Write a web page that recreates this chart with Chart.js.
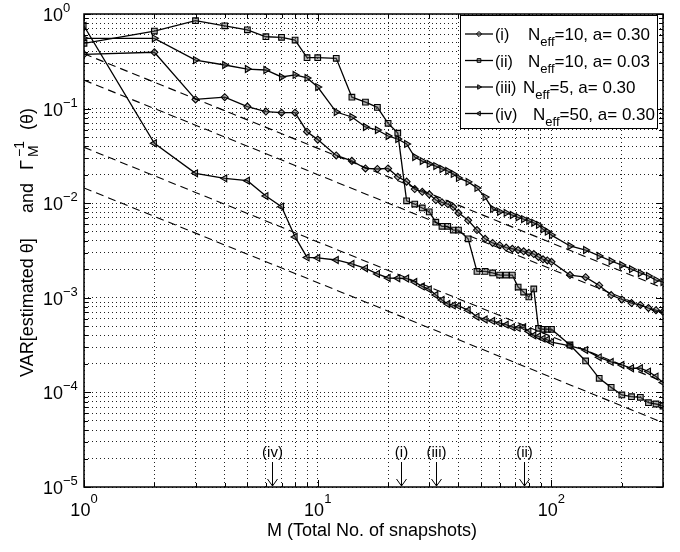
<!DOCTYPE html>
<html>
<head>
<meta charset="utf-8">
<script src="https://cdn.jsdelivr.net/npm/chart.js@4.4.1/dist/chart.umd.min.js"></script>
<style>
  html, body { margin: 0; padding: 0; background: #fff; }
  #wrap { width: 680px; height: 552px; }
</style>
</head>
<body>
<div id="wrap"><canvas id="chart" width="680" height="552"></canvas></div>
<script>
// number of snapshots M at which the variance was estimated
const snapshots = [1, 2, 3, 4, 5, 6, 7, 8, 9, 10,
  12, 14, 16, 18, 20, 22, 24, 26, 28, 30, 32, 34, 36, 38, 40,
  44, 48, 52, 56, 60, 64, 68, 72, 76, 80, 84, 88, 92, 96, 100,
  120, 140, 160, 180, 200, 220, 240, 260, 280, 300]

// VAR[estimated theta]
const varI = [0.375, 0.394, 0.125, 0.132, 0.105, 0.093, 0.0905, 0.0905, 0.057, 0.047,
  0.032, 0.028, 0.0233, 0.023, 0.0233, 0.019, 0.0169, 0.0141, 0.0132, 0.0124, 0.0108, 0.0102, 0.0098, 0.0091, 0.0079,
  0.0066, 0.0052, 0.0042, 0.0038, 0.0036, 0.0034, 0.0033, 0.0032, 0.0031, 0.0030, 0.0029, 0.0027, 0.00255, 0.00248, 0.0024,
  0.00174, 0.00165, 0.00135, 0.00107, 0.00096, 0.00088, 0.00084, 0.00078, 0.00074, 0.00071]
const varII = [0.49, 0.66, 0.85, 0.75, 0.68, 0.575, 0.567, 0.53, 0.345, 0.345,
  0.34, 0.132, 0.117, 0.103, 0.070, 0.055, 0.0106, 0.0098, 0.0089, 0.0081, 0.0063, 0.0057, 0.0057, 0.0052, 0.0052,
  0.0042, 0.0019, 0.0019, 0.00183, 0.00174, 0.00174, 0.00174, 0.0013, 0.00115, 0.00102, 0.00124, 0.000476, 0.000465, 0.000465, 0.000465,
  0.000317, 0.000215, 0.000141, 0.000113, 0.000094, 0.00009, 0.0000888, 0.0000778, 0.0000754, 0.0000718]
const varIII = [0.553, 0.553, 0.326, 0.289, 0.262, 0.256, 0.216, 0.227, 0.211, 0.169,
  0.092, 0.0815, 0.0639, 0.0594, 0.0513, 0.0477, 0.0423, 0.0308, 0.0279, 0.026, 0.0247, 0.023, 0.0219, 0.0204, 0.0185,
  0.0168, 0.0145, 0.0116, 0.0087, 0.0081, 0.0079, 0.0075, 0.0071, 0.0068, 0.0065, 0.0062, 0.0059, 0.0053, 0.0050, 0.0046,
  0.00353, 0.0032, 0.00277, 0.00245, 0.00222, 0.00201, 0.00183, 0.0017, 0.00154, 0.00147]
const varIV = [0.747, 0.043, 0.0207, 0.0183, 0.0173, 0.0119, 0.0092, 0.0044, 0.00267, 0.00264,
  0.00251, 0.00228, 0.00205, 0.00179, 0.00162, 0.00161, 0.0016, 0.00147, 0.00132, 0.00123, 0.00107, 0.00095, 0.00086, 0.00083, 0.00082,
  0.00074, 0.00063, 0.00059, 0.00057, 0.00054, 0.00052, 0.00049, 0.00048, 0.00049, 0.00044, 0.0004, 0.00039, 0.00037, 0.00036, 0.00034,
  0.00031, 0.00028, 0.000235, 0.00021, 0.000195, 0.00018, 0.00018, 0.000166, 0.000147, 0.000127]

// dashed bounds Gamma_M^-1(theta), value at M = 1 and at M = 300
const boundM = [1, 300]
const boundStart = [0.38, 0.20, 0.039, 0.0145]
const boundEnd = [0.00127, 0.00067, 0.00013, 0.000048]

// legend
const seriesTags = ['(i)', '(ii)', '(iii)', '(iv)']
const nEff = ['10', '10', '5', '50']
const aValues = ['0.30', '0.03', '0.30', '0.30']

// arrows on the M axis
const arrowM = [6.4, 22.6, 32.2, 76]
const arrowTags = ['(iv)', '(i)', '(iii)', '(ii)']

// ticks / grid
const xTicks = [1, 2, 3, 4, 5, 6, 7, 8, 9, 10, 20, 30, 40, 50, 60, 70, 80, 90, 100, 200, 300]
const yDecades = [-5, -4, -3, -2, -1, 0]
const xLabelDecades = [0, 1, 2]
const mantissas = [1, 2, 3, 4, 5, 6, 7, 8, 9]
const yTicks = []
yDecades.forEach(d => mantissas.forEach(m => { if (d < 0 || m === 1) yTicks.push(m * Math.pow(10, d)) }))

const FONT = "'Liberation Sans', Arial, Helvetica, sans-serif"
const MARKER_FILL = 'rgba(90,90,90,0.45)'
const pointStyles = ['rectRot', 'rect', 'triangle', 'triangle']
const pointRotations = [0, 0, 90, -90]
const pointRadii = [3.5, 4, 4, 4]
const seriesValues = [varI, varII, varIII, varIV]

const isDecade = v => Math.abs(Math.log10(v) - Math.round(Math.log10(v))) < 1e-9
const expText = d => (d < 0 ? '\u2212' + (-d) : String(d))

const datasets = []
boundStart.forEach((v, i) => {
  datasets.push({
    data: [{ x: boundM[0], y: v }, { x: boundM[1], y: boundEnd[i] }],
    borderColor: '#000',
    borderWidth: 1.1,
    borderDash: [8, 5],
    pointRadius: 0,
    fill: false
  })
})
seriesValues.forEach((vals, i) => {
  datasets.push({
    data: snapshots.map((m, k) => ({ x: m, y: vals[k] })),
    borderColor: '#000',
    borderWidth: 1.3,
    pointStyle: pointStyles[i],
    pointRotation: pointRotations[i],
    pointRadius: pointRadii[i],
    pointBorderWidth: 1.1,
    pointBorderColor: '#000',
    pointBackgroundColor: MARKER_FILL,
    tension: 0,
    fill: false
  })
})

const decorations = {
  id: 'decorations',
  afterDraw(chart) {
    const { ctx, chartArea: a, scales: { x, y } } = chart
    ctx.save()

    // inward tick marks on all four sides
    ctx.strokeStyle = '#000'
    ctx.lineWidth = 1
    ctx.beginPath()
    xTicks.forEach(v => {
      const px = Math.round(x.getPixelForValue(v)) + 0.5
      const len = isDecade(v) ? 7 : 4
      ctx.moveTo(px, a.bottom); ctx.lineTo(px, a.bottom - len)
      ctx.moveTo(px, a.top); ctx.lineTo(px, a.top + len)
    })
    yTicks.forEach(v => {
      const py = Math.round(y.getPixelForValue(v)) + 0.5
      const len = isDecade(v) ? 7 : 4
      ctx.moveTo(a.left, py); ctx.lineTo(a.left + len, py)
      ctx.moveTo(a.right, py); ctx.lineTo(a.right - len, py)
    })
    ctx.stroke()

    // box
    ctx.lineWidth = 1.5
    ctx.strokeRect(a.left, a.top, a.right - a.left, a.bottom - a.top)

    // tick labels 10^k
    ctx.fillStyle = '#000'
    ctx.textBaseline = 'alphabetic'
    xLabelDecades.forEach(d => {
      const px = x.getPixelForValue(Math.pow(10, d))
      ctx.font = `18px ${FONT}`
      const wb = ctx.measureText('10').width
      ctx.font = `13px ${FONT}`
      const we = ctx.measureText(expText(d)).width
      const left = px - (wb + we) / 2
      ctx.textAlign = 'left'
      ctx.font = `18px ${FONT}`
      ctx.fillText('10', left, a.bottom + 29)
      ctx.font = `13px ${FONT}`
      ctx.fillText(expText(d), left + wb, a.bottom + 16)
    })
    yDecades.forEach(d => {
      const py = y.getPixelForValue(Math.pow(10, d))
      ctx.font = `18px ${FONT}`
      ctx.textAlign = 'right'
      ctx.fillText('10', 63, py + 7)
      ctx.font = `13px ${FONT}`
      ctx.textAlign = 'left'
      ctx.fillText(expText(d), 63, py - 2)
    })

    // x title
    ctx.font = `18px ${FONT}`
    ctx.textAlign = 'center'
    ctx.fillText('M (Total No. of snapshots)', 372, 536)

    // y title, rotated
    ctx.save()
    ctx.translate(33, 377)
    ctx.rotate(-Math.PI / 2)
    ctx.textAlign = 'left'
    ctx.font = `18px ${FONT}`
    ctx.fillText('VAR[estimated \u03b8]', 0, 0)
    ctx.fillText('and', 164, 0)
    ctx.fillText('\u0393', 207, 0)
    ctx.font = `14px ${FONT}`
    ctx.fillText('\u22121', 220, -9)
    ctx.fillText('M', 220, 5)
    ctx.font = `18px ${FONT}`
    ctx.fillText('(\u03b8)', 247, 0)
    ctx.restore()

    // arrows marking M values
    ctx.lineWidth = 1
    ctx.textAlign = 'center'
    ctx.font = `15px ${FONT}`
    arrowM.forEach((m, i) => {
      const px = Math.round(x.getPixelForValue(m)) + 0.5
      ctx.fillText(arrowTags[i], px, 457)
      ctx.beginPath()
      ctx.moveTo(px, 462); ctx.lineTo(px, a.bottom - 1)
      ctx.moveTo(px - 5, a.bottom - 8); ctx.lineTo(px, a.bottom - 1); ctx.lineTo(px + 5, a.bottom - 8)
      ctx.stroke()
    })

    // legend
    const lx = 460, ly = 15, lw = 197, lh = 113
    ctx.fillStyle = '#fff'
    ctx.fillRect(lx, ly, lw, lh)
    ctx.strokeStyle = '#000'
    ctx.lineWidth = 1
    ctx.strokeRect(lx + 0.5, ly + 0.5, lw, lh)
    const nX = [lx + 68, lx + 68, lx + 63, lx + 73]
    seriesTags.forEach((tag, i) => {
      const ry = ly + 19 + i * 26.5
      ctx.beginPath()
      ctx.moveTo(lx + 5, ry); ctx.lineTo(lx + 33, ry)
      ctx.lineWidth = 1.3
      ctx.stroke()
      ctx.lineWidth = 1
      ctx.fillStyle = MARKER_FILL
      Chart.helpers.drawPoint(ctx, {
        pointStyle: pointStyles[i], rotation: pointRotations[i], radius: 2.6, borderWidth: 1
      }, lx + 19, ry)
      ctx.fillStyle = '#000'
      ctx.textAlign = 'left'
      ctx.font = `16px ${FONT}`
      ctx.fillText(tag, lx + 35, ry + 6)
      ctx.font = `17px ${FONT}`
      let tx = nX[i]
      ctx.fillText('N', tx, ry + 6)
      tx += ctx.measureText('N').width
      ctx.font = `13px ${FONT}`
      ctx.fillText('eff', tx, ry + 12)
      tx += ctx.measureText('eff').width
      ctx.font = `17px ${FONT}`
      ctx.fillText('=' + nEff[i] + ', a= ' + aValues[i], tx, ry + 6)
    })

    ctx.restore()
  }
}

const gridCommon = {
  color: '#222',
  lineWidth: 1,
  drawTicks: false,
  tickLength: 0
}

new Chart(document.getElementById('chart').getContext('2d'), {
  type: 'line',
  data: { datasets },
  options: {
    responsive: false,
    animation: false,
    layout: { padding: { left: 84, right: 17, top: 14, bottom: 65 } },
    scales: {
      x: {
        type: 'logarithmic',
        min: 1,
        max: 300,
        afterBuildTicks: scale => { scale.ticks = xTicks.map(v => ({ value: v })) },
        ticks: { display: false },
        grid: gridCommon,
        border: { display: false, dash: [1, 3] }
      },
      y: {
        type: 'logarithmic',
        min: 1e-5,
        max: 1,
        afterBuildTicks: scale => { scale.ticks = yTicks.map(v => ({ value: v })) },
        ticks: { display: false },
        grid: gridCommon,
        border: { display: false, dash: [1, 3] }
      }
    },
    plugins: {
      legend: { display: false },
      tooltip: { enabled: false }
    }
  },
  plugins: [decorations]
})
</script>
</body>
</html>
